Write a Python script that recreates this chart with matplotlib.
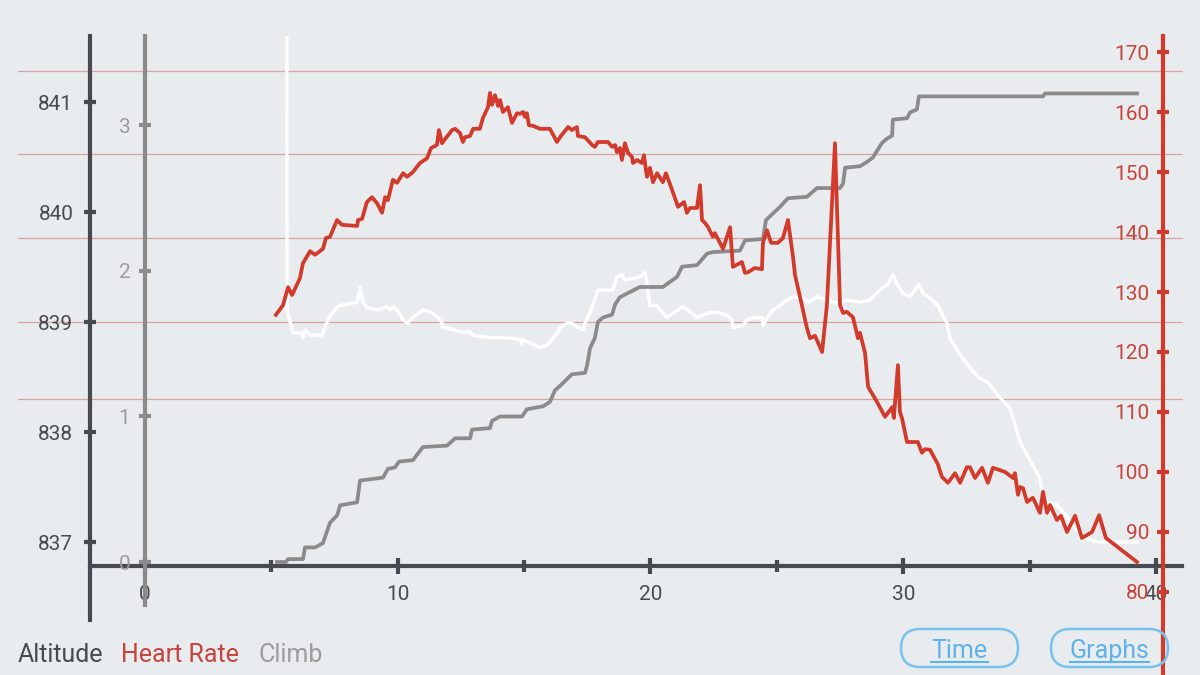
import matplotlib
matplotlib.use('Agg')
import matplotlib.pyplot as plt
from matplotlib.patches import FancyBboxPatch
from matplotlib.lines import Line2D

plt.rcParams['font.family'] = ['Roboto', 'DejaVu Sans']

# ---------------- data (distance, value) ----------------
alt_x = [5.60, 5.62, 5.82, 5.86, 6.21, 6.25, 6.33, 6.53, 7.00, 7.12, 7.32, 7.60, 7.72, 8.39, 8.51,
         8.63, 8.78, 9.22, 9.57, 9.69, 9.81, 9.97, 10.21, 10.37, 10.60, 11.00, 11.28, 11.55, 11.75,
         11.79, 12.19, 12.46, 12.86, 12.98, 13.25, 13.65, 13.77, 13.85, 14.05, 14.56, 14.84, 14.92,
         14.96, 15.23, 15.63, 15.91, 16.14, 16.34, 16.42, 16.70, 16.89, 17.13, 17.33, 17.41, 17.61,
         17.72, 17.92, 18.52, 18.67, 18.87, 18.99, 19.58, 19.78, 19.86, 19.98, 20.26, 20.38, 20.65,
         20.89, 21.09, 21.29, 21.64, 21.84, 22.24, 22.63, 23.03, 23.22, 23.26, 23.66, 23.82, 24.06,
         24.41, 24.45, 24.61, 24.85, 25.12, 25.40, 25.64, 26.03, 26.23, 26.59, 26.98, 27.38, 27.77,
         28.29, 28.68, 29.08, 29.40, 29.59, 29.75, 29.99, 30.27, 30.46, 30.62, 30.78, 31.06, 31.37,
         31.57, 31.73, 31.85, 32.25, 32.76, 32.96, 33.35, 33.83, 34.22, 34.34, 34.62, 34.90, 35.41,
         35.49, 35.69, 36.08, 36.48, 36.88, 37.11, 37.67, 38.18, 39.25]
alt_y = [845.00, 839.11, 838.93, 838.90, 838.90, 838.86, 838.93, 838.88, 838.88, 838.95, 839.06,
         839.13, 839.15, 839.18, 839.31, 839.18, 839.13, 839.11, 839.14, 839.11, 839.14, 839.11,
         839.02, 838.99, 839.04, 839.11, 839.09, 839.05, 838.99, 838.95, 838.93, 838.91, 838.91,
         838.88, 838.87, 838.86, 838.85, 838.86, 838.86, 838.85, 838.84, 838.79, 838.84, 838.81,
         838.77, 838.79, 838.85, 838.91, 838.95, 838.99, 838.99, 838.95, 838.93, 838.99, 839.09,
         839.15, 839.29, 839.29, 839.41, 839.43, 839.38, 839.41, 839.45, 839.35, 839.15, 839.15,
         839.11, 839.04, 839.08, 839.11, 839.14, 839.08, 839.04, 839.08, 839.09, 839.06, 839.02,
         838.95, 838.97, 839.02, 839.04, 839.04, 838.97, 839.04, 839.11, 839.15, 839.20, 839.23,
         839.22, 839.18, 839.23, 839.20, 839.17, 839.20, 839.18, 839.20, 839.29, 839.35, 839.43,
         839.35, 839.26, 839.23, 839.29, 839.34, 839.26, 839.22, 839.15, 839.06, 838.99, 838.85,
         838.70, 838.55, 838.50, 838.45, 838.31, 838.22, 838.13, 837.91, 837.79, 837.58, 837.45,
         837.36, 837.34, 837.23, 837.11, 837.04, 837.00, 837.00, 837.00]

hr_x = [5.18, 5.46, 5.66, 5.82, 6.13, 6.25, 6.53, 6.73, 7.04, 7.16, 7.32, 7.60, 7.79, 8.39, 8.43,
        8.59, 8.78, 8.98, 9.18, 9.38, 9.50, 9.61, 9.81, 9.97, 10.09, 10.21, 10.37, 10.60, 10.88,
        11.16, 11.32, 11.55, 11.63, 11.75, 12.15, 12.27, 12.46, 12.58, 12.66, 12.86, 12.98, 13.25,
        13.37, 13.57, 13.65, 13.73, 13.85, 13.97, 14.05, 14.16, 14.36, 14.52, 14.72, 14.84, 14.96,
        15.03, 15.11, 15.19, 15.35, 15.63, 16.02, 16.30, 16.42, 16.74, 16.89, 17.09, 17.13, 17.41,
        17.69, 17.80, 17.92, 18.32, 18.48, 18.60, 18.67, 18.79, 18.87, 18.99, 19.11, 19.27, 19.31,
        19.47, 19.66, 19.74, 19.86, 19.98, 20.10, 20.26, 20.49, 20.61, 20.77, 21.09, 21.33, 21.44,
        21.56, 21.84, 21.96, 22.04, 22.16, 22.28, 22.47, 22.55, 22.87, 23.15, 23.26, 23.62, 23.74,
        23.86, 24.13, 24.41, 24.45, 24.61, 24.77, 25.04, 25.24, 25.44, 25.64, 25.72, 25.99, 26.19,
        26.31, 26.51, 26.79, 26.90, 26.98, 27.30, 27.50, 27.62, 27.77, 28.01, 28.21, 28.29, 28.49,
        28.61, 28.96, 29.28, 29.56, 29.63, 29.79, 29.87, 29.95, 30.15, 30.58, 30.74, 30.86, 31.06,
        31.37, 31.53, 31.77, 32.05, 32.25, 32.52, 32.64, 32.84, 33.12, 33.35, 33.55, 34.03, 34.34,
        34.42, 34.54, 34.62, 34.74, 34.90, 35.13, 35.41, 35.53, 35.69, 35.81, 36.08, 36.24, 36.48,
        36.80, 37.07, 37.47, 37.75, 38.02, 39.25]
hr_y = [126.2, 127.8, 130.8, 129.5, 132.3, 134.8, 136.8, 136.2, 137.2, 139.0, 139.2, 142.0, 141.2,
        141.0, 142.0, 142.2, 145.0, 145.8, 144.8, 143.2, 145.8, 145.3, 148.7, 148.2, 149.0, 149.8,
        149.2, 150.0, 151.5, 152.3, 154.0, 154.5, 157.0, 154.8, 157.0, 157.2, 156.5, 155.0, 155.8,
        156.0, 157.2, 157.2, 159.0, 160.8, 163.2, 161.2, 162.8, 161.0, 162.0, 160.0, 160.8, 158.2,
        159.8, 159.7, 160.0, 159.2, 159.8, 157.8, 157.7, 157.2, 157.2, 155.0, 155.8, 157.5, 157.0,
        157.5, 156.0, 155.8, 154.5, 154.2, 155.0, 155.0, 154.2, 154.5, 153.3, 154.0, 152.0, 154.8,
        153.2, 152.5, 151.5, 152.0, 151.5, 152.8, 149.2, 150.7, 148.3, 149.8, 148.3, 149.8, 148.0,
        144.2, 145.0, 143.2, 144.0, 144.0, 147.8, 142.0, 141.5, 140.8, 139.2, 139.8, 137.2, 140.8,
        134.2, 135.0, 133.2, 133.3, 134.0, 133.8, 138.2, 140.3, 138.2, 138.2, 139.0, 142.0, 135.8,
        132.8, 127.8, 124.0, 122.3, 122.7, 120.0, 124.5, 127.8, 154.8, 127.8, 126.5, 126.7, 125.8,
        122.3, 123.2, 119.8, 114.2, 111.7, 109.2, 110.8, 109.0, 117.8, 110.0, 109.0, 105.0, 105.0,
        103.2, 103.8, 103.7, 101.3, 99.2, 98.2, 99.8, 98.2, 100.8, 100.8, 99.0, 100.7, 98.2, 100.7,
        100.0, 99.0, 99.8, 96.2, 97.5, 97.3, 95.0, 95.7, 93.2, 96.7, 93.2, 94.5, 92.0, 92.7, 90.0,
        92.7, 89.0, 90.0, 92.8, 89.0, 85.0]

climb_x = [5.22, 5.58, 5.66, 6.25, 6.33, 6.73, 7.04, 7.32, 7.60, 7.72, 8.39, 8.51, 9.42, 9.61, 9.89,
           10.05, 10.60, 11.00, 11.95, 12.27, 12.86, 12.94, 13.65, 13.73, 14.05, 14.92, 15.11, 15.75,
           16.02, 16.22, 16.42, 16.89, 17.41, 17.49, 17.61, 17.80, 17.92, 18.12, 18.48, 18.60, 18.79,
           19.58, 20.49, 21.05, 21.25, 21.84, 22.24, 22.47, 23.54, 23.74, 24.45, 24.57, 25.12, 25.44,
           26.19, 26.39, 26.59, 27.50, 27.62, 27.70, 28.29, 28.57, 28.80, 29.16, 29.36, 29.56, 29.59,
           30.15, 30.27, 30.54, 30.62, 35.53, 35.61, 39.25]
climb_y = [0.00, 0.00, 0.02, 0.02, 0.10, 0.10, 0.13, 0.27, 0.32, 0.39, 0.41, 0.56, 0.58, 0.64, 0.65,
           0.69, 0.70, 0.79, 0.80, 0.85, 0.85, 0.91, 0.92, 0.97, 1.00, 1.00, 1.05, 1.07, 1.10, 1.18,
           1.21, 1.29, 1.30, 1.35, 1.47, 1.54, 1.65, 1.68, 1.70, 1.77, 1.82, 1.89, 1.89, 1.96, 2.03,
           2.04, 2.12, 2.13, 2.14, 2.21, 2.22, 2.35, 2.44, 2.50, 2.51, 2.54, 2.57, 2.57, 2.60, 2.71,
           2.72, 2.75, 2.78, 2.88, 2.91, 2.93, 3.04, 3.05, 3.09, 3.11, 3.20, 3.20, 3.22, 3.22]

alt_ticks = [837, 838, 839, 840, 841]
climb_ticks = [0, 1, 2, 3]
hr_ticks = [80, 90, 100, 110, 120, 130, 140, 150, 160, 170]
x_ticks = [0, 10, 20, 30, 40]
x_minor = [5, 15, 25, 35]
grid_alt = [841.28, 840.53, 839.76, 839.0, 838.3]
legend_items = [("Altitude", 18), ("Heart Rate", 121), ("Climb", 259)]
buttons = ["Time", "Graphs"]

# ---------------- style ----------------
BG = '#e9ecef'
DARK = '#474b51'
RED = '#d23a2b'
RED_TXT = '#c8443a'
GRAY = '#8b8b8b'
GRAY_TXT = '#9c9c9c'
GRID = '#d9a3a0'
BLUE = '#5eb2ea'
BLUE_EDGE = '#78c2ee'

W, H = 1200, 675
fig = plt.figure(figsize=(12, 6.75), dpi=100)
fig.patch.set_facecolor(BG)

L, R, T, B = 90, 1182, 36, 620
ax = fig.add_axes([L / W, (H - B) / H, (R - L) / W, (B - T) / H])
ax.set_facecolor('none')
ax.set_xlim(-2.176, 41.03)
ax.set_ylim(836.291, 841.6)

ax_c = ax.twinx()
ax_c.set_ylim(-0.3986, 3.615)
ax_h = ax.twinx()
ax_h.set_ylim(75.33, 172.67)
for a in (ax_c, ax_h):
    a.patch.set_visible(False)

# grid lines (reach past the left axis)
for g in grid_alt:
    ax.axhline(g, xmin=(18 - L) / (R - L), xmax=1.0, color=GRID, lw=0.9,
               clip_on=False, zorder=0.5)

# series
ax.plot(alt_x, alt_y, color='white', lw=2.4, zorder=2, solid_joinstyle='round')
ax_c.plot(climb_x, climb_y, color=GRAY, lw=2.7, zorder=2, solid_joinstyle='round')
ax_h.plot(hr_x, hr_y, color=RED, lw=2.7, zorder=3, solid_joinstyle='round')

FS = 15
# altitude axis
for s in ('top', 'right'):
    ax.spines[s].set_visible(False)
ax.spines['left'].set_color(DARK)
ax.spines['left'].set_linewidth(3)
ax.spines['bottom'].set_color(DARK)
ax.spines['bottom'].set_linewidth(3)
ax.spines['bottom'].set_position(('data', 836.782))
ax.set_yticks(alt_ticks)
ax.tick_params(axis='y', direction='inout', length=9, width=3, color=DARK,
               labelcolor=DARK, labelsize=FS, pad=7.5)
ax.set_xticks(x_ticks)
ax.set_xticks(x_minor, minor=True)
ax.tick_params(axis='x', which='major', direction='inout', length=12, width=3,
               color=DARK, labelcolor=DARK, labelsize=FS, pad=8)
ax.tick_params(axis='x', which='minor', direction='inout', length=8, width=3, color=DARK)

# climb axis
for s in ('top', 'right', 'bottom'):
    ax_c.spines[s].set_visible(False)
ax_c.spines['left'].set_visible(True)
ax_c.spines['left'].set_position(('data', 0))
ax_c.spines['left'].set_bounds(-0.296, 3.615)
ax_c.spines['left'].set_color(GRAY)
ax_c.spines['left'].set_linewidth(3)
ax_c.yaxis.tick_left()
ax_c.set_yticks(climb_ticks)
ax_c.tick_params(axis='y', direction='inout', length=9, width=3, color=GRAY,
                 labelcolor=GRAY_TXT, labelsize=FS, pad=6)

# heart-rate axis
for s in ('top', 'right', 'bottom'):
    ax_h.spines[s].set_visible(False)
sp = ax_h.spines['left']
sp.set_visible(True)
sp.set_position(('axes', (1163 - L) / (R - L)))
sp.set_bounds(66.0, 172.67)
sp.set_clip_on(False)
sp.set_color(RED)
sp.set_linewidth(3)
ax_h.yaxis.tick_left()
ax_h.set_yticks(hr_ticks)
ax_h.tick_params(axis='y', direction='inout', length=9, width=3, color=RED,
                 labelcolor=RED_TXT, labelsize=FS, pad=5.5)

# legend texts
leg_colors = [DARK, RED_TXT, GRAY_TXT]
for (txt, xp), c in zip(legend_items, leg_colors):
    fig.text(xp / W, 1 - 662 / H, txt, color=c, fontsize=18, va='baseline', ha='left')

# buttons
btn_boxes = [(901, 1018), (1051, 1168)]
texts = []
for label, (x0, x1) in zip(buttons, btn_boxes):
    patch = FancyBboxPatch((x0 / W, 1 - 667 / H), (x1 - x0) / W, 38 / H,
                           boxstyle='round,pad=0,rounding_size=0.016',
                           transform=fig.transFigure, facecolor='none',
                           edgecolor=BLUE_EDGE, lw=1.8, mutation_aspect=W / H)
    fig.patches.append(patch)
    t = fig.text((x0 + x1) / 2 / W, 1 - 658 / H, label, color=BLUE, fontsize=18,
                 ha='center', va='baseline')
    texts.append(t)

fig.canvas.draw()
renderer = fig.canvas.get_renderer()
for t in texts:
    bb = t.get_window_extent(renderer)
    y = (1 - 662 / H)
    fig.lines.append(Line2D([bb.x0 / W, bb.x1 / W], [y, y], transform=fig.transFigure,
                            color=BLUE, lw=1.5))

fig.savefig('out.png', dpi=100, facecolor=BG)
